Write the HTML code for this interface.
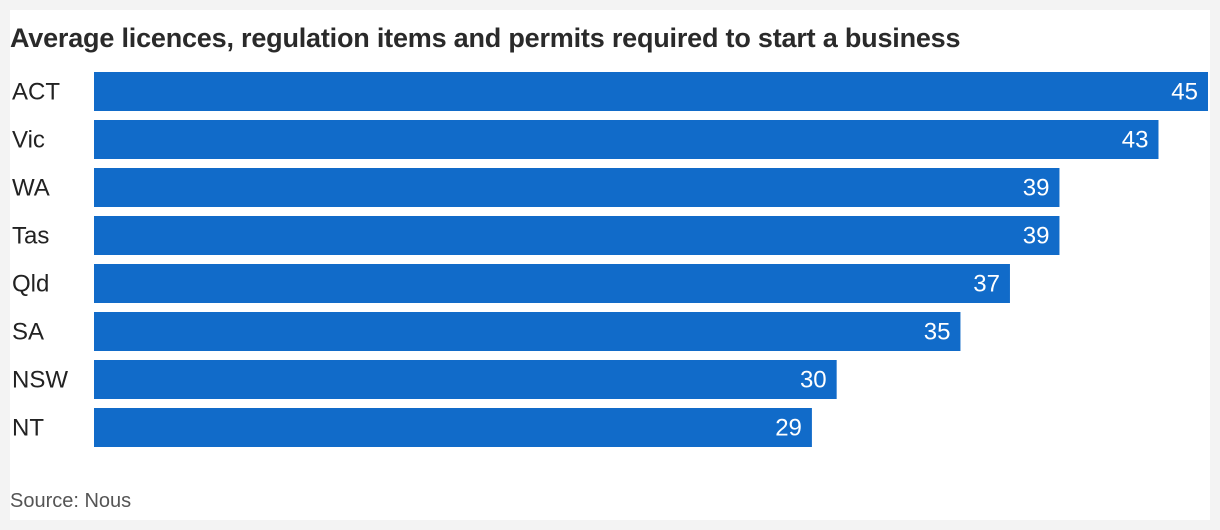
<!DOCTYPE html>
<html><head><meta charset="utf-8"><style>
body{margin:0;width:1220px;height:530px;background:#f3f3f3;font-family:"Liberation Sans",sans-serif;}
#panel{position:absolute;left:10px;top:10px;width:1200px;height:510px;background:#fff;}
#title{position:absolute;left:0;top:13px;font-size:27px;font-weight:bold;color:#2a2a2a;white-space:nowrap;letter-spacing:-0.2px}
#source{position:absolute;left:0;top:480px;font-size:20px;color:#555}
</style></head><body>
<div id="panel">
<div id="title">Average licences, regulation items and permits required to start a business</div>
<svg id="chart" width="1200" height="470" style="position:absolute;left:0;top:0"></svg>
<div id="source">Source: Nous</div>
</div>
<script>
const categories=["ACT","Vic","WA","Tas","Qld","SA","NSW","NT"];
const values=[45,43,39,39,37,35,30,29];
const svg=document.getElementById('chart');
const NS="http://www.w3.org/2000/svg";
const x0=84,maxW=1114,maxV=45,top0=62,pitch=48,bh=39;
const xs=v=>v/maxV*maxW;
categories.forEach((c,i)=>{
  const y=top0+i*pitch;
  const t=document.createElementNS(NS,'text');
  
  
  t.setAttribute('x',2);t.setAttribute('y',y+bh/2+8);
  t.setAttribute('font-size','24');t.setAttribute('fill','#222');
  t.textContent=c;svg.appendChild(t);
  const r=document.createElementNS(NS,'rect');
  
  
  r.setAttribute('x',x0);r.setAttribute('y',y);r.setAttribute('width',xs(values[i]));r.setAttribute('height',bh);
  r.setAttribute('fill','#116bc9');svg.appendChild(r);
  const v=document.createElementNS(NS,'text');
  
  
  v.setAttribute('x',x0+xs(values[i])-10);v.setAttribute('y',y+bh/2+8);
  v.setAttribute('text-anchor','end');v.setAttribute('font-size','24');v.setAttribute('fill','#fff');
  v.textContent=values[i];svg.appendChild(v);
});
</script>
</body></html>
